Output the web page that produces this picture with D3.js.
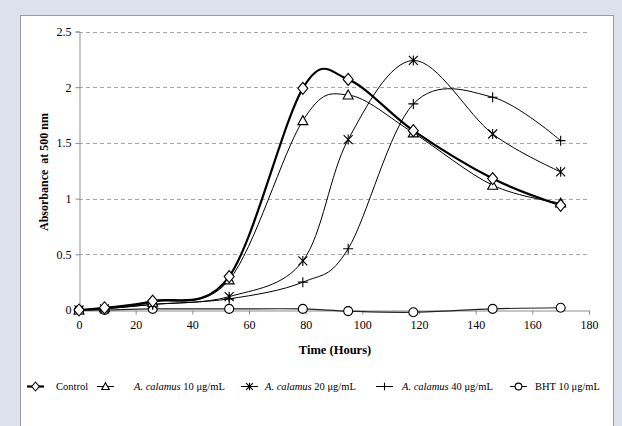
<!DOCTYPE html>
<html>
<head>
<meta charset="utf-8">
<script src="https://cdn.jsdelivr.net/npm/d3@7"></script>
<style>
html,body{margin:0;padding:0;background:#dde1ee;}
svg{display:block;}
</style>
</head>
<body>
<svg id="chart" width="622" height="426"></svg>
<script>
const times = [0, 9, 26, 53, 79, 95, 118, 146, 170];
const control = [0, 0.02, 0.08, 0.30, 1.99, 2.07, 1.61, 1.18, 0.94];
const ac10 = [0, 0.02, 0.07, 0.27, 1.70, 1.93, 1.59, 1.12, 0.96];
const ac20 = [0, 0.01, 0.05, 0.12, 0.44, 1.53, 2.24, 1.58, 1.24];
const ac40 = [0, 0.01, 0.05, 0.10, 0.25, 0.55, 1.85, 1.91, 1.52];
const bht = [0, 0, 0.01, 0.01, 0.01, -0.01, -0.02, 0.01, 0.02];
const xTicks = [0, 20, 40, 60, 80, 100, 120, 140, 160, 180];
const yTicks = [0, 0.5, 1, 1.5, 2, 2.5];
const seriesNames = ["Control", "A. calamus|10 μg/mL", "A. calamus|20 μg/mL", "A. calamus|40 μg/mL", "BHT 10 μg/mL"];

const svg = d3.select("#chart");
const font = "'Liberation Serif', 'Times New Roman', serif";

// panel
svg.append("rect").attr("x", 20.5).attr("y", 15.5).attr("width", 593).attr("height", 420)
  .attr("fill", "#fff").attr("stroke", "#9a9a9a");

const x = d3.scaleLinear().domain([0, 180]).range([79, 589]);
const y = d3.scaleLinear().domain([0, 2.5]).range([310, 31.5]);

// gridlines
svg.append("g").selectAll("line").data(yTicks.filter(d => d > 0)).join("line")
  .attr("x1", 79).attr("x2", 589)
  .attr("y1", d => Math.round(y(d)) + 0.5).attr("y2", d => Math.round(y(d)) + 0.5)
  .attr("stroke", "#a6a6a6").attr("stroke-dasharray", "4,3");

// axes
const xAxis = svg.append("g").attr("transform", "translate(0,310.5)")
  .call(d3.axisBottom(x).tickValues(xTicks).tickSize(4).tickPadding(6).tickFormat(d3.format("d")));
const yAxis = svg.append("g").attr("transform", "translate(79.5,0)")
  .call(d3.axisLeft(y).tickValues(yTicks).tickSize(4).tickPadding(4).tickFormat(d => d));
[xAxis, yAxis].forEach(g => {
  g.select(".domain").attr("stroke", "#8c8c8c");
  g.selectAll(".tick line").attr("stroke", "#8c8c8c");
  g.selectAll(".tick text").attr("font-family", font).attr("font-size", 12).attr("fill", "#000");
});

// axis titles
svg.append("text").attr("x", 335).attr("y", 354).attr("text-anchor", "middle")
  .attr("font-family", font).attr("font-weight", "bold").attr("font-size", 12.5).text("Time (Hours)");
svg.append("text").attr("transform", "translate(48,172) rotate(-90)").attr("text-anchor", "middle")
  .attr("font-family", font).attr("font-weight", "bold").attr("font-size", 12)
  .attr("xml:space", "preserve").text("Absorbance  at 500 nm");

// markers
function marker(g, type, k) {
  k = k || 1;
  if (type === "diamond") {
    g.append("path").attr("d", `M0,${-6*k}L${5*k},0L0,${6*k}L${-5*k},0Z`).attr("fill", "#fff").attr("stroke", "#000").attr("stroke-width", 1.1);
  } else if (type === "triangle") {
    g.append("path").attr("d", `M0,${-5*k}L${5*k},${4*k}L${-5*k},${4*k}Z`).attr("fill", "#fff").attr("stroke", "#000").attr("stroke-width", 1.1);
  } else if (type === "star") {
    const a = 4.5 * k, b = 5 * k;
    g.append("path").attr("d", `M${-a},${-a}L${a},${a}M${-a},${a}L${a},${-a}M0,${-b}L0,${b}`).attr("stroke", "#000").attr("stroke-width", 1.1);
  } else if (type === "plus") {
    const b = 5 * k;
    g.append("path").attr("d", `M${-b},0L${b},0M0,${-b}L0,${b}`).attr("stroke", "#000").attr("stroke-width", 1.1);
  } else if (type === "circle") {
    g.append("circle").attr("r", 4.5 * k).attr("fill", "#fff").attr("stroke", "#000").attr("stroke-width", 1.1);
  }
}

const series = [
  {vals: bht, type: "circle", w: 1.2, color: "#222"},
  {vals: ac40, type: "plus", w: 1, color: "#000"},
  {vals: ac20, type: "star", w: 1, color: "#000"},
  {vals: ac10, type: "triangle", w: 1, color: "#000"},
  {vals: control, type: "diamond", w: 2.2, color: "#000"}
];
const line = d3.line().x(d => x(d[0])).y(d => y(d[1])).curve(d3.curveCardinal.tension(0));

series.forEach(s => {
  const pts = times.map((t, i) => [t, s.vals[i]]);
  svg.append("path").attr("d", line(pts)).attr("fill", "none").attr("stroke", s.color).attr("stroke-width", s.w);
});
series.forEach(s => {
  times.forEach((t, i) => {
    const g = svg.append("g").attr("transform", `translate(${x(t)},${y(s.vals[i])})`);
    marker(g, s.type, 1);
  });
});

// legend
const legendItems = [
  {name: seriesNames[0], type: "diamond", w: 2.2, lx: 27, tx: 56},
  {name: seriesNames[1], type: "triangle", w: 1, lx: 97, tx: 134},
  {name: seriesNames[2], type: "star", w: 1, lx: 241, tx: 265},
  {name: seriesNames[3], type: "plus", w: 1, lx: 376, tx: 402},
  {name: seriesNames[4], type: "circle", w: 1, lx: 510, tx: 535}
];
const ly = 386.5;
legendItems.forEach(it => {
  svg.append("line").attr("x1", it.lx).attr("x2", it.lx + 17).attr("y1", ly).attr("y2", ly)
    .attr("stroke", "#000").attr("stroke-width", it.w);
  const g = svg.append("g").attr("transform", `translate(${it.lx + 8.5},${ly})`);
  marker(g, it.type, 0.75);
  const t = svg.append("text").attr("x", it.tx).attr("y", ly + 3.5)
    .attr("font-family", font).attr("font-size", 10.5).attr("fill", "#000");
  const parts = it.name.split("|");
  if (parts.length === 2) {
    t.append("tspan").attr("font-style", "italic").text(parts[0]);
    t.append("tspan").text(" " + parts[1]);
  } else {
    t.text(parts[0]);
  }
});
</script>
</body>
</html>
